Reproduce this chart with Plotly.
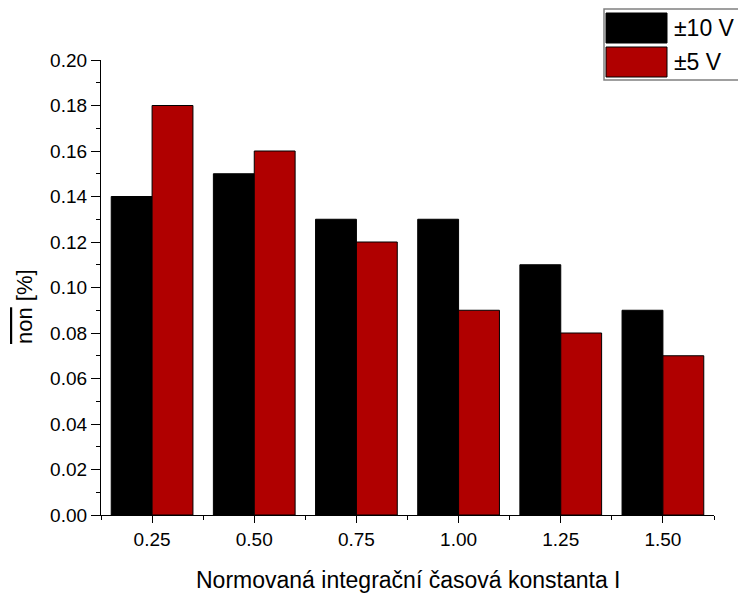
import plotly.graph_objects as go

# Normalised integration time constant I
categories = [0.25, 0.50, 0.75, 1.00, 1.25, 1.50]
# Mean nonlinearity [%] for the two input ranges
series_names = ["±10 V", "±5 V"]
values_10v = [0.14, 0.15, 0.13, 0.13, 0.11, 0.09]
values_5v = [0.18, 0.16, 0.12, 0.09, 0.08, 0.07]
colors = ["#000000", "#b00000"]

x_title = "Normovaná integrační časová konstanta I"
y_title = "<span style='text-decoration:overline'>non</span> [%]"

FONT = "Arial, Liberation Sans, sans-serif"

fig = go.Figure()
for name, vals, col in zip(series_names, [values_10v, values_5v], colors):
    fig.add_trace(go.Bar(
        x=categories, y=vals, name=name,
        marker=dict(color=col, line=dict(color="#000000", width=1)),
        showlegend=False,
    ))

axis_common = dict(
    showgrid=False, zeroline=False, showline=True, linecolor="#000000",
    linewidth=1.3, ticks="outside", tickcolor="#000000", tickwidth=1.3,
    tickfont=dict(family=FONT, size=19, color="#000000"),
    mirror=False, automargin=False,
)

fig.update_xaxes(
    range=[0.125, 1.625], tickmode="linear", tick0=0.25, dtick=0.25,
    tickformat=".2f", ticklen=7,
    minor=dict(ticks="outside", tick0=0.125, dtick=0.125, ticklen=4,
               tickcolor="#000000", tickwidth=1.3),
    **axis_common,
)
fig.update_yaxes(
    range=[0, 0.20], tickmode="linear", tick0=0, dtick=0.02,
    tickformat=".2f", ticklen=9,
    minor=dict(ticks="outside", tick0=0, dtick=0.01, ticklen=4,
               tickcolor="#000000", tickwidth=1.3),
    **axis_common,
)

W, H = 738, 594
L, R, T, B = 101, 24, 60, 79
pw, ph = W - L - R, H - T - B


def px(x):
    return (x - L) / pw


def py(y):
    return (H - B - y) / ph


shapes = []
annotations = [
    dict(xref="paper", yref="paper", x=0.5, y=py(580), text=x_title,
         showarrow=False, xanchor="center", yanchor="middle",
         font=dict(family=FONT, size=23, color="#000000")),
    dict(xref="paper", yref="paper", x=px(24), y=py(307), text=y_title,
         showarrow=False, xanchor="center", yanchor="middle", textangle=-90,
         font=dict(family=FONT, size=22, color="#000000")),
]

# Legend box with large colour swatches
shapes.append(dict(type="rect", xref="paper", yref="paper",
                   x0=px(604), x1=px(745), y0=py(80), y1=py(9),
                   line=dict(color="#808080", width=1.5), fillcolor="#ffffff",
                   layer="above"))
rows = [(13, 43), (47, 77)]
for (top, bot), name, col in zip(rows, series_names, colors):
    shapes.append(dict(type="rect", xref="paper", yref="paper",
                       x0=px(606), x1=px(667), y0=py(bot), y1=py(top),
                       fillcolor=col, line=dict(color="#000000", width=1),
                       layer="above"))
    annotations.append(dict(xref="paper", yref="paper", x=px(672),
                            y=py((top + bot) / 2), text=name, showarrow=False,
                            xanchor="left", yanchor="middle",
                            font=dict(family=FONT, size=23, color="#000000")))

fig.update_layout(
    width=W, height=H, barmode="group", bargap=0.2, bargroupgap=0,
    plot_bgcolor="#ffffff", paper_bgcolor="#ffffff",
    margin=dict(l=L, r=R, t=T, b=B),
    shapes=shapes, annotations=annotations, showlegend=False,
)

fig.write_html("out.html")
